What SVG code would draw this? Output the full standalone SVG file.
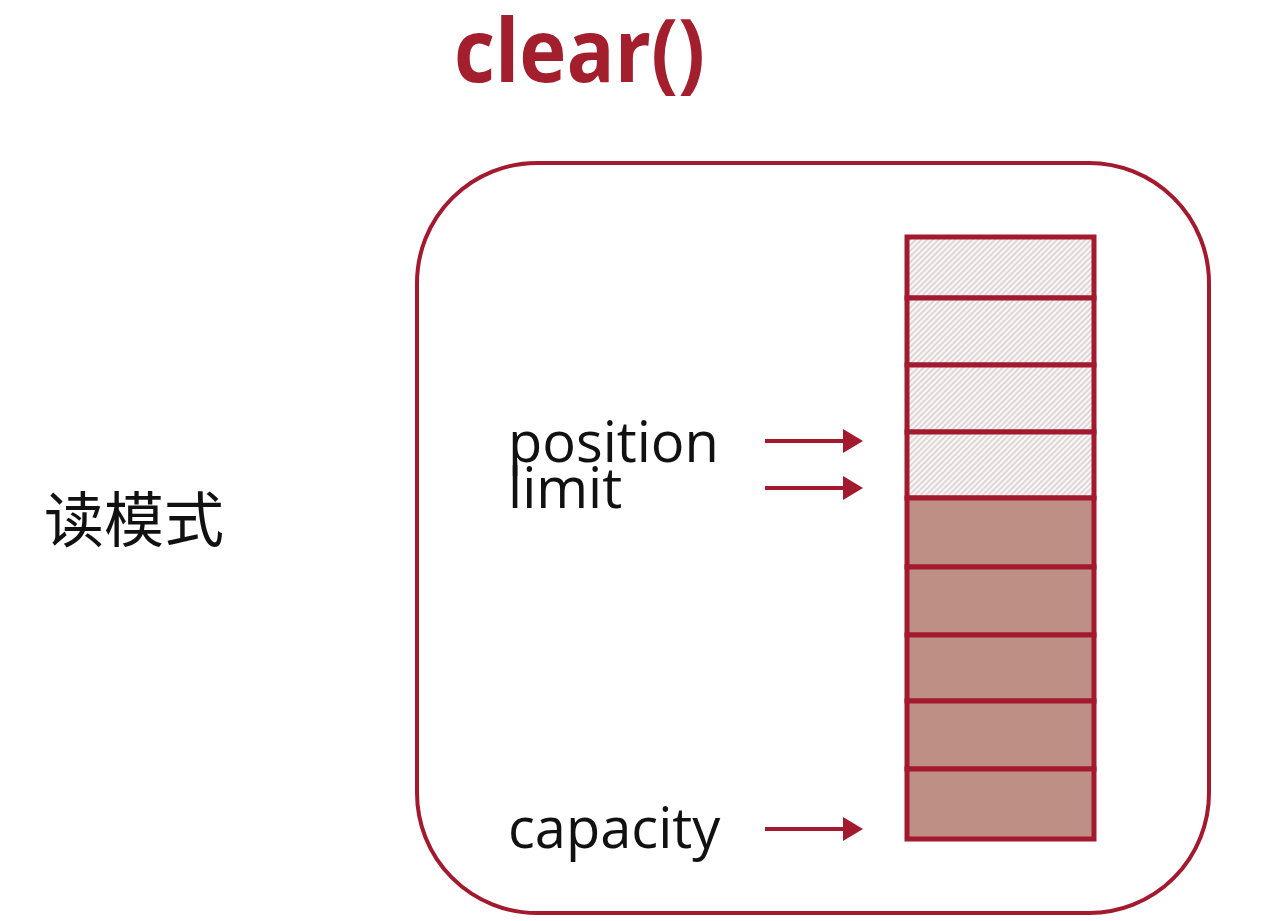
<svg xmlns="http://www.w3.org/2000/svg" width="1267" height="921" viewBox="0 0 1267 921">
<style>
.lbl{font-family:"Open Sans","Liberation Sans",sans-serif;font-size:56px;fill:#111}
.cell{stroke:#a3192d;stroke-width:5}
.hatch{fill:url(#hatch)}
.full{fill:#be9085}
.conn{stroke:#a3192d;stroke-width:4;fill:none;marker-end:url(#ah)}
</style>
<defs>
<pattern id="hatch" width="4" height="4" patternUnits="userSpaceOnUse" patternTransform="rotate(45)">
<rect width="4" height="4" fill="#fbf7f7"/>
<line x1="1" y1="0" x2="1" y2="4" stroke="#c9c2c2" stroke-width="1.2"/>
</pattern>
<marker id="ah" markerWidth="6" markerHeight="7" refX="2.5" refY="3.5" orient="auto" markerUnits="strokeWidth">
<path d="M0,0.5 L5,3.5 L0,6.5 Z" fill="#a3192d"/>
</marker>
</defs>
<rect width="1267" height="921" fill="#ffffff"/>
<text id="title" x="454" y="82" font-family="'Open Sans','Liberation Sans',sans-serif" font-weight="bold" font-size="88" fill="#a31f2e" textLength="251" lengthAdjust="spacingAndGlyphs">clear()</text>
<text id="mode" x="44" y="542" font-family="'Noto Sans CJK SC',sans-serif" font-size="60" fill="#111">读模式</text>
<g id="buffer-frame">
<rect x="417" y="163" width="792" height="750" rx="120" ry="120" fill="none" stroke="#a3192d" stroke-width="4"/>
</g>
<g id="buffer">
<rect class="cell hatch" x="907" y="237" width="187" height="61"/>
<rect class="cell hatch" x="907" y="298" width="187" height="67"/>
<rect class="cell hatch" x="907" y="365" width="187" height="67"/>
<rect class="cell hatch" x="907" y="432" width="187" height="66"/>
<rect class="cell full" x="907" y="498" width="187" height="69"/>
<rect class="cell full" x="907" y="567" width="187" height="68"/>
<rect class="cell full" x="907" y="635" width="187" height="66"/>
<rect class="cell full" x="907" y="701" width="187" height="68"/>
<rect class="cell full" x="907" y="769" width="187" height="70"/>
</g>
<g id="position"><text class="lbl" x="508" y="462">position</text></g>
<g id="limit"><text class="lbl" x="508" y="508">limit</text></g>
<g id="capacity"><text class="lbl" x="508" y="848">capacity</text></g>
<g id="connectors">
<line class="conn" x1="765" y1="441" x2="853" y2="441"/>
<line class="conn" x1="765" y1="488" x2="853" y2="488"/>
<line class="conn" x1="765" y1="829" x2="853" y2="829"/>
</g>
</svg>
